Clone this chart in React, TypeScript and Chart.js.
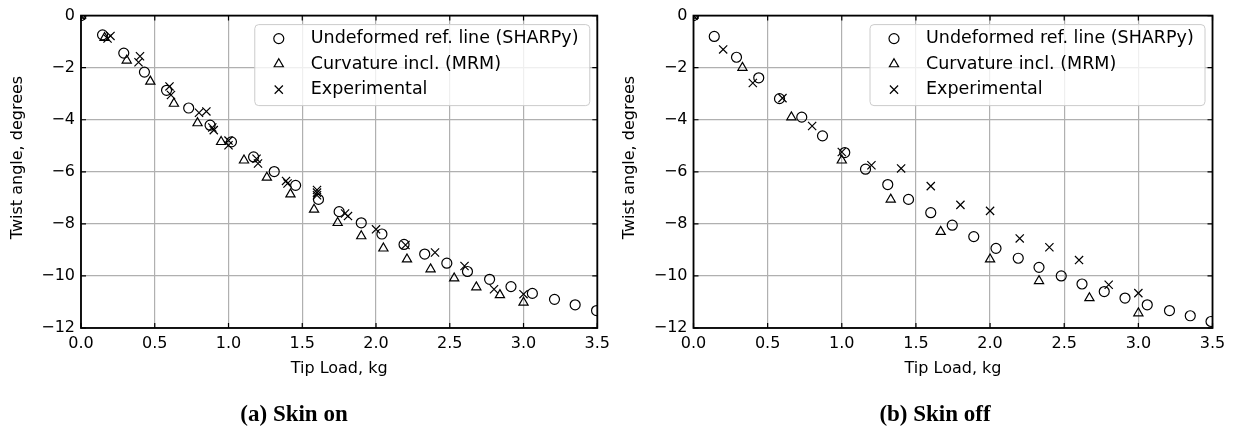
import React, { useEffect, useRef } from 'react';
import { Chart, registerables } from 'chart.js';

Chart.register(...registerables);

// ---------- data: (a) Skin on ----------
const onUndefX = [0, 0.146, 0.29, 0.43, 0.58, 0.73, 0.875, 1.02, 1.17, 1.31, 1.455, 1.61, 1.75, 1.90, 2.04, 2.19, 2.33, 2.48, 2.62, 2.77, 2.915, 3.06, 3.21, 3.35, 3.495];
const onUndefY = [0, -0.74, -1.44, -2.17, -2.87, -3.55, -4.21, -4.85, -5.43, -5.99, -6.52, -7.06, -7.53, -7.96, -8.39, -8.79, -9.16, -9.51, -9.83, -10.13, -10.41, -10.67, -10.9, -11.11, -11.33];
const onCurvX = [0, 0.16, 0.31, 0.47, 0.63, 0.79, 0.95, 1.105, 1.26, 1.42, 1.58, 1.74, 1.90, 2.05, 2.21, 2.37, 2.53, 2.68, 2.84, 3.0];
const onCurvY = [0, -0.85, -1.72, -2.53, -3.38, -4.13, -4.85, -5.56, -6.22, -6.86, -7.45, -7.96, -8.47, -8.94, -9.36, -9.74, -10.09, -10.43, -10.73, -11.02];
const onExpX = [0, 0.18, 0.2, 0.4, 0.39, 0.6, 0.61, 0.8, 0.85, 0.89, 0.9, 1.0, 1.0, 1.19, 1.2, 1.39, 1.4, 1.6, 1.6, 1.6, 1.79, 1.81, 2.0, 2.2, 2.4, 2.6, 2.8, 3.0];
const onExpY = [0, -0.88, -0.78, -1.56, -1.79, -2.72, -3.05, -3.73, -3.68, -4.3, -4.4, -4.8, -4.98, -5.5, -5.68, -6.35, -6.45, -6.7, -6.8, -6.9, -7.6, -7.7, -8.21, -8.81, -9.1, -9.62, -10.51, -10.7];

// ---------- data: (b) Skin off ----------
const offUndefX = [0, 0.14, 0.29, 0.44, 0.58, 0.73, 0.87, 1.02, 1.16, 1.31, 1.45, 1.60, 1.745, 1.89, 2.04, 2.19, 2.33, 2.48, 2.62, 2.77, 2.91, 3.06, 3.21, 3.35, 3.49];
const offUndefY = [0, -0.8, -1.6, -2.39, -3.19, -3.9, -4.62, -5.26, -5.9, -6.49, -7.06, -7.57, -8.05, -8.49, -8.94, -9.32, -9.67, -10.0, -10.31, -10.6, -10.85, -11.11, -11.33, -11.53, -11.75];
const offCurvX = [0, 0.33, 0.66, 1.0, 1.33, 1.667, 2.0, 2.33, 2.67, 3.0];
const offCurvY = [0, -2.0, -3.9, -5.56, -7.06, -8.3, -9.36, -10.19, -10.85, -11.43];
const offExpX = [0, 0.2, 0.4, 0.6, 0.8, 1.0, 1.2, 1.4, 1.6, 1.8, 2.0, 2.2, 2.4, 2.6, 2.8, 3.0];
const offExpY = [0, -1.3, -2.59, -3.17, -4.24, -5.24, -5.75, -5.87, -6.55, -7.27, -7.5, -8.56, -8.9, -9.39, -10.34, -10.66];

// ---------- axes / text ----------
const xTicks = [0, 0.5, 1.0, 1.5, 2.0, 2.5, 3.0, 3.5];
const yTicks = [0, -2, -4, -6, -8, -10, -12];
const seriesLabels = ['Undeformed ref. line (SHARPy)', 'Curvature incl. (MRM)', 'Experimental'];
const seriesMarkers = ['circle', 'triangle', 'crossRot'];
const xTitle = 'Tip Load, kg';
const yTitle = 'Twist angle, degrees';
const captions = ['(a) Skin on', '(b) Skin off'];

const FONT = '"DejaVu Sans", sans-serif';
const MARKER_R: Record<string, number> = { circle: 5, triangle: 5.3, crossRot: 5.8 };

function zip(xs: number[], ys: number[]) {
  return xs.map((x, i) => ({ x, y: ys[i] }));
}

function drawMarker(ctx: CanvasRenderingContext2D, style: string, x: number, y: number) {
  const r = MARKER_R[style];
  ctx.beginPath();
  if (style === 'circle') {
    ctx.arc(x, y, r, 0, Math.PI * 2);
  } else if (style === 'triangle') {
    ctx.moveTo(x, y - r);
    ctx.lineTo(x + r * 0.866, y + r / 2);
    ctx.lineTo(x - r * 0.866, y + r / 2);
    ctx.closePath();
  } else {
    const d = r * 0.7071;
    ctx.moveTo(x - d, y - d);
    ctx.lineTo(x + d, y + d);
    ctx.moveTo(x + d, y - d);
    ctx.lineTo(x - d, y + d);
  }
  ctx.stroke();
}

type PanelCfg = {
  left: number;
  width: number;
  yAxisWidth: number;
  padRight: number;
  yTitleX: number;
  series: { xs: number[]; ys: number[] }[];
};

function makeDecor(cfg: PanelCfg) {
  return {
    id: 'decor',
    afterDatasetsDraw(chart: any) {
      const { ctx, chartArea: ca, scales } = chart;
      ctx.save();
      // inward ticks on all four sides
      ctx.strokeStyle = '#000';
      ctx.lineWidth = 1.2;
      ctx.beginPath();
      xTicks.forEach((v) => {
        const px = scales.x.getPixelForValue(v);
        ctx.moveTo(px, ca.bottom);
        ctx.lineTo(px, ca.bottom - 5);
        ctx.moveTo(px, ca.top);
        ctx.lineTo(px, ca.top + 5);
      });
      yTicks.forEach((v) => {
        const py = scales.y.getPixelForValue(v);
        ctx.moveTo(ca.left, py);
        ctx.lineTo(ca.left + 5, py);
        ctx.moveTo(ca.right, py);
        ctx.lineTo(ca.right - 5, py);
      });
      ctx.stroke();
      // axes frame
      ctx.lineWidth = 1.8;
      ctx.strokeRect(ca.left, ca.top, ca.right - ca.left, ca.bottom - ca.top);

      // legend
      const bw = 335;
      const bh = 81;
      const bx = ca.right - 7.5 - bw;
      const by = ca.top + 9;
      ctx.beginPath();
      if ((ctx as any).roundRect) (ctx as any).roundRect(bx, by, bw, bh, 4);
      else ctx.rect(bx, by, bw, bh);
      ctx.fillStyle = 'rgba(255,255,255,0.8)';
      ctx.fill();
      ctx.strokeStyle = '#cccccc';
      ctx.lineWidth = 1;
      ctx.stroke();
      ctx.font = '17.5px ' + FONT;
      ctx.textAlign = 'left';
      ctx.textBaseline = 'middle';
      seriesLabels.forEach((lab, i) => {
        const cy = by + 14 + i * 25.5;
        ctx.strokeStyle = '#000';
        ctx.lineWidth = 1.2;
        drawMarker(ctx, seriesMarkers[i], bx + 24, cy);
        ctx.fillStyle = '#000';
        ctx.fillText(lab, bx + 56, cy);
      });

      // axis titles
      ctx.fillStyle = '#000';
      ctx.font = '16px ' + FONT;
      ctx.textAlign = 'center';
      ctx.textBaseline = 'middle';
      ctx.fillText(xTitle, (ca.left + ca.right) / 2, 369);
      ctx.translate(cfg.yTitleX, 157.5);
      ctx.rotate(-Math.PI / 2);
      ctx.fillText(yTitle, 0, 0);
      ctx.restore();
    },
  };
}

function Panel({ cfg }: { cfg: PanelCfg }) {
  const ref = useRef<HTMLCanvasElement | null>(null);
  useEffect(() => {
    if (!ref.current) return;
    const tickFont = { family: FONT, size: 16 };
    const chart = new Chart(ref.current, {
      type: 'scatter',
      data: {
        datasets: cfg.series.map((s, i) => ({
          label: seriesLabels[i],
          data: zip(s.xs, s.ys),
          pointStyle: seriesMarkers[i] as any,
          pointRadius: MARKER_R[seriesMarkers[i]],
          pointHoverRadius: MARKER_R[seriesMarkers[i]],
          pointBorderColor: '#000',
          pointBackgroundColor: 'rgba(0,0,0,0)',
          pointBorderWidth: 1.2,
          showLine: false,
          clip: 0 as any,
        })),
      },
      options: {
        animation: false,
        responsive: false,
        events: [],
        layout: { padding: { top: 15, right: cfg.padRight, bottom: 0, left: 0 } },
        plugins: { legend: { display: false }, tooltip: { enabled: false } },
        scales: {
          x: {
            type: 'linear',
            min: 0,
            max: 3.5,
            afterBuildTicks: (s: any) => {
              s.ticks = xTicks.map((v) => ({ value: v }));
            },
            afterFit: (s: any) => {
              s.height = 101;
            },
            ticks: {
              font: tickFont,
              color: '#000',
              padding: 6,
              maxRotation: 0,
              autoSkip: false,
              callback: (v: any) => Number(v).toFixed(1),
            },
            grid: { color: '#b0b0b0', lineWidth: 1.2, drawTicks: false },
            border: { display: false },
          },
          y: {
            type: 'linear',
            min: -12,
            max: 0,
            afterBuildTicks: (s: any) => {
              s.ticks = yTicks.map((v) => ({ value: v }));
            },
            afterFit: (s: any) => {
              s.width = cfg.yAxisWidth;
            },
            ticks: {
              font: tickFont,
              color: '#000',
              padding: 6,
              autoSkip: false,
              callback: (v: any) => (Number(v) < 0 ? '\u2212' + Math.abs(Number(v)) : String(v)),
            },
            grid: { color: '#b0b0b0', lineWidth: 1.2, drawTicks: false },
            border: { display: false },
          },
        },
      },
      plugins: [makeDecor(cfg)],
    });
    return () => chart.destroy();
  }, [cfg]);
  return (
    <canvas
      ref={ref}
      width={cfg.width}
      height={429}
      style={{ position: 'absolute', left: cfg.left, top: 0, width: cfg.width, height: 429 }}
    />
  );
}

const leftCfg: PanelCfg = {
  left: 0,
  width: 616,
  yAxisWidth: 81,
  padRight: 17,
  yTitleX: 18,
  series: [
    { xs: onUndefX, ys: onUndefY },
    { xs: onCurvX, ys: onCurvY },
    { xs: onExpX, ys: onExpY },
  ],
};

const rightCfg: PanelCfg = {
  left: 616,
  width: 617,
  yAxisWidth: 77.5,
  padRight: 20.5,
  yTitleX: 14,
  series: [
    { xs: offUndefX, ys: offUndefY },
    { xs: offCurvX, ys: offCurvY },
    { xs: offExpX, ys: offExpY },
  ],
};

export default function App() {
  const capStyle: React.CSSProperties = {
    position: 'absolute',
    top: 403,
    width: 300,
    textAlign: 'center',
    font: 'bold 23px "Liberation Serif", "Times New Roman", serif',
    lineHeight: '22px',
    whiteSpace: 'nowrap',
    color: '#000',
  };
  return (
    <div style={{ position: 'fixed', left: 0, top: 0, width: 1233, height: 429, background: '#fff', overflow: 'hidden' }}>
      <Panel cfg={leftCfg} />
      <Panel cfg={rightCfg} />
      <div style={{ ...capStyle, left: 294 - 150 }}>{captions[0]}</div>
      <div style={{ ...capStyle, left: 935 - 150 }}>{captions[1]}</div>
    </div>
  );
}
